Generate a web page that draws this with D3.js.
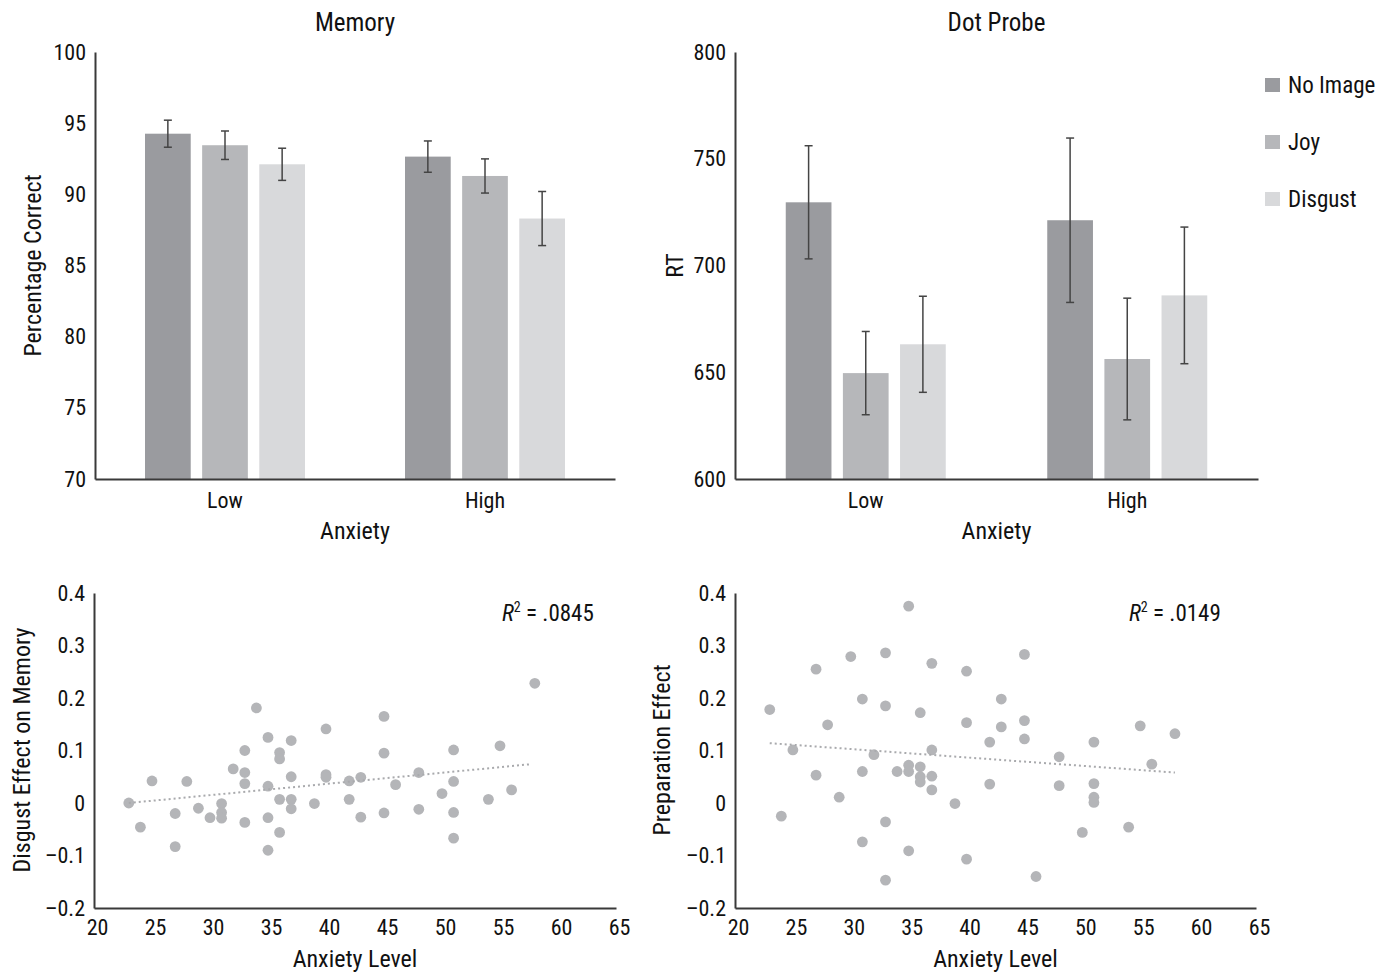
<!DOCTYPE html>
<html>
<head>
<meta charset="utf-8">
<script src="https://cdn.jsdelivr.net/npm/d3@7"></script>
<style>
  body { margin: 0; background: #fff; }
  text { font-family: "Roboto Condensed", "DejaVu Sans Condensed", "Roboto", sans-serif; fill: #111; }
</style>
</head>
<body>
<svg id="chart" width="1387" height="975"></svg>
<script>
// --- data ---
const anxietyGroups = ["Low", "High"];
const conditions = ["No Image", "Joy", "Disgust"];
const conditionColors = ["#9a9b9f", "#b6b7ba", "#d8d9db"];

const memoryMeans = [[94.26, 93.45, 92.11], [92.65, 91.29, 88.3]];
const memoryErrors = [[0.95, 1.0, 1.13], [1.1, 1.2, 1.9]];
const memoryTicks = [70, 75, 80, 85, 90, 95, 100];

const dotMeans = [[729.6, 649.6, 663.1], [721.2, 656.2, 686.0]];
const dotErrors = [[26.5, 19.5, 22.5], [38.5, 28.5, 32]];
const dotTicks = [600, 650, 700, 750, 800];

const memAnxiety = [23, 24, 25, 27, 27, 28, 29, 30, 31, 31, 31, 32, 33, 33, 33, 33, 34, 35, 35, 35, 35, 36, 36, 36, 36,
  37, 37, 37, 37, 39, 40, 40, 40, 42, 42, 43, 43, 45, 45, 45, 46, 48, 48, 50, 51, 51, 51, 51, 54, 55, 56, 58];
const memEffect = [0.0, -0.046, 0.042, -0.02, -0.083, 0.041, -0.01, -0.028, -0.001, -0.018, -0.029, 0.065, 0.1, 0.058,
  0.037, -0.037, 0.181, 0.125, 0.032, -0.028, -0.09, 0.096, 0.084, 0.007, -0.056, 0.119, 0.05, 0.007, -0.011, -0.001,
  0.141, 0.054, 0.049, 0.042, 0.007, 0.049, -0.027, 0.165, 0.095, -0.019, 0.035, 0.058, -0.012, 0.018, 0.101, 0.041,
  -0.018, -0.067, 0.007, 0.109, 0.025, 0.228];
const memTrend = [[23, 0.0], [57.7, 0.074]];

const dotAnxiety = [23, 24, 25, 27, 27, 28, 29, 30, 31, 31, 31, 32, 33, 33, 33, 33, 34, 35, 35, 35, 35, 36, 36, 36, 36,
  37, 37, 37, 37, 39, 40, 40, 40, 42, 42, 43, 43, 45, 45, 45, 46, 48, 48, 50, 51, 51, 51, 51, 54, 55, 56, 58];
const dotEffect = [0.178, -0.025, 0.101, 0.255, 0.053, 0.149, 0.011, 0.279, 0.198, 0.06, -0.074, 0.092, 0.286, 0.185,
  -0.036, -0.147, 0.06, 0.375, 0.072, 0.06, -0.091, 0.172, 0.069, 0.05, 0.04, 0.266, 0.101, 0.051, 0.025, -0.001,
  0.251, 0.153, -0.107, 0.116, 0.036, 0.198, 0.145, 0.283, 0.157, 0.122, -0.14, 0.088, 0.033, -0.056, 0.116, 0.037,
  0.011, 0.001, -0.046, 0.147, 0.074, 0.132];
const dotTrend = [[23, 0.114], [58, 0.058]];

const scatterXTicks = [20, 25, 30, 35, 40, 45, 50, 55, 60, 65];
const scatterYTicks = [-0.2, -0.1, 0, 0.1, 0.2, 0.3, 0.4];

const svg = d3.select("#chart");
const axisColor = "#3a3a3a";

const fmtSigned = d => (d < 0 ? "\u2013" + Math.abs(d) : String(d));

function styleAxis(g) {
  g.select(".domain").attr("stroke", axisColor).attr("stroke-width", 2);
  g.selectAll(".tick line").remove();
  g.selectAll("text").style("font-size", "22px").attr("fill", "#111");
}

// --- bar chart panel ---
function barPanel(opts) {
  const x = d3.scaleBand().domain(anxietyGroups).range(opts.xRange);
  const y = d3.scaleLinear().domain(opts.yDomain).range(opts.yRange);
  const inner = d3.scaleBand().domain(conditions).range([-80, 80]).paddingInner(0.2);
  const color = d3.scaleOrdinal().domain(conditions).range(conditionColors);

  const g = svg.append("g");

  anxietyGroups.forEach((grp, gi) => {
    const cx = x(grp) + x.bandwidth() / 2;
    conditions.forEach((c, ci) => {
      const m = opts.means[gi][ci], e = opts.errors[gi][ci];
      const bx = cx + inner(c);
      g.append("rect")
        .attr("x", bx).attr("y", y(m))
        .attr("width", inner.bandwidth()).attr("height", y(opts.yDomain[0]) - y(m))
        .attr("fill", color(c));
      const mx = bx + inner.bandwidth() / 2;
      g.append("line").attr("x1", mx).attr("x2", mx).attr("y1", y(m - e)).attr("y2", y(m + e))
        .attr("stroke", "#444").attr("stroke-width", 1.5);
      [m - e, m + e].forEach(v => {
        g.append("line").attr("x1", mx - 4).attr("x2", mx + 4).attr("y1", y(v)).attr("y2", y(v))
          .attr("stroke", "#444").attr("stroke-width", 1.5);
      });
    });
  });

  g.append("g")
    .attr("transform", `translate(${opts.xRange[0]},0)`)
    .call(d3.axisLeft(y).tickValues(opts.ticks).tickSize(0).tickPadding(9).tickSizeOuter(0))
    .call(styleAxis);

  g.append("g")
    .attr("transform", `translate(0,${opts.yRange[0]})`)
    .call(d3.axisBottom(x).tickSize(0).tickPadding(13).tickSizeOuter(0))
    .call(styleAxis);

  const midX = (opts.xRange[0] + opts.xRange[1]) / 2;
  g.append("text").attr("x", midX).attr("y", 31).attr("text-anchor", "middle")
    .style("font-size", "25px").text(opts.title);
  g.append("text").attr("x", midX).attr("y", 539).attr("text-anchor", "middle")
    .style("font-size", "24px").text("Anxiety");
  g.append("text")
    .attr("transform", `translate(${opts.yLabelX},${(opts.yRange[0] + opts.yRange[1]) / 2}) rotate(-90)`)
    .attr("text-anchor", "middle").style("font-size", "24px").text(opts.yLabel);
}

barPanel({ title: "Memory", xRange: [95, 615], yRange: [479, 52], yDomain: [70, 100],
  means: memoryMeans, errors: memoryErrors, ticks: memoryTicks, yLabel: "Percentage Correct", yLabelX: 41 });
barPanel({ title: "Dot Probe", xRange: [735, 1258], yRange: [479, 52], yDomain: [600, 800],
  means: dotMeans, errors: dotErrors, ticks: dotTicks, yLabel: "RT", yLabelX: 683 });

// legend
const legend = svg.append("g").attr("transform", "translate(1265,85)");
conditions.forEach((c, i) => {
  const row = legend.append("g").attr("transform", `translate(0,${i * 57})`);
  row.append("rect").attr("x", 0).attr("y", -7).attr("width", 15).attr("height", 14).attr("fill", conditionColors[i]);
  row.append("text").attr("x", 23).attr("y", 8).style("font-size", "23px").text(c);
});

// --- scatter panel ---
function scatterPanel(opts) {
  const x = d3.scaleLinear().domain([20, 65]).range(opts.xRange);
  const y = d3.scaleLinear().domain([-0.2, 0.4]).range([908, 593]);
  const g = svg.append("g");

  g.append("g")
    .attr("transform", `translate(${opts.xRange[0]},0)`)
    .call(d3.axisLeft(y).tickValues(scatterYTicks).tickFormat(fmtSigned).tickSize(0).tickPadding(9).tickSizeOuter(0))
    .call(styleAxis);
  g.append("g")
    .attr("transform", "translate(0,908)")
    .call(d3.axisBottom(x).tickValues(scatterXTicks).tickSize(0).tickPadding(11).tickSizeOuter(0))
    .call(styleAxis)
    .selectAll(".tick text").attr("dx", 3);

  g.selectAll("circle")
    .data(d3.zip(opts.xs, opts.ys))
    .join("circle")
    .attr("cx", d => x(d[0]))
    .attr("cy", d => y(d[1]))
    .attr("r", 5.4)
    .attr("fill", "#b4b5b8");

  g.append("line")
    .attr("x1", x(opts.trend[0][0])).attr("y1", y(opts.trend[0][1]))
    .attr("x2", x(opts.trend[1][0])).attr("y2", y(opts.trend[1][1]))
    .attr("stroke", "#a9aaad").attr("stroke-width", 2).attr("stroke-dasharray", "2 3");

  const r2 = g.append("text").attr("x", opts.r2X).attr("y", 621).style("font-size", "23px");
  r2.append("tspan").style("font-style", "italic").text("R");
  r2.append("tspan").attr("dy", -9).style("font-size", "14px").text("2");
  r2.append("tspan").attr("dy", 9).text(" = " + opts.r2);

  const midX = (opts.xRange[0] + opts.xRange[1]) / 2;
  g.append("text").attr("x", midX).attr("y", 967).attr("text-anchor", "middle")
    .style("font-size", "24px").text("Anxiety Level");
  g.append("text")
    .attr("transform", `translate(${opts.yLabelX},750) rotate(-90)`)
    .attr("text-anchor", "middle").style("font-size", "24px").text(opts.yLabel);
}

scatterPanel({ xRange: [94, 616], xs: memAnxiety, ys: memEffect, trend: memTrend, r2: ".0845", r2X: 502,
  yLabel: "Disgust Effect on Memory", yLabelX: 30 });
scatterPanel({ xRange: [735, 1256], xs: dotAnxiety, ys: dotEffect, trend: dotTrend, r2: ".0149", r2X: 1129,
  yLabel: "Preparation Effect", yLabelX: 670 });
</script>
</body>
</html>
